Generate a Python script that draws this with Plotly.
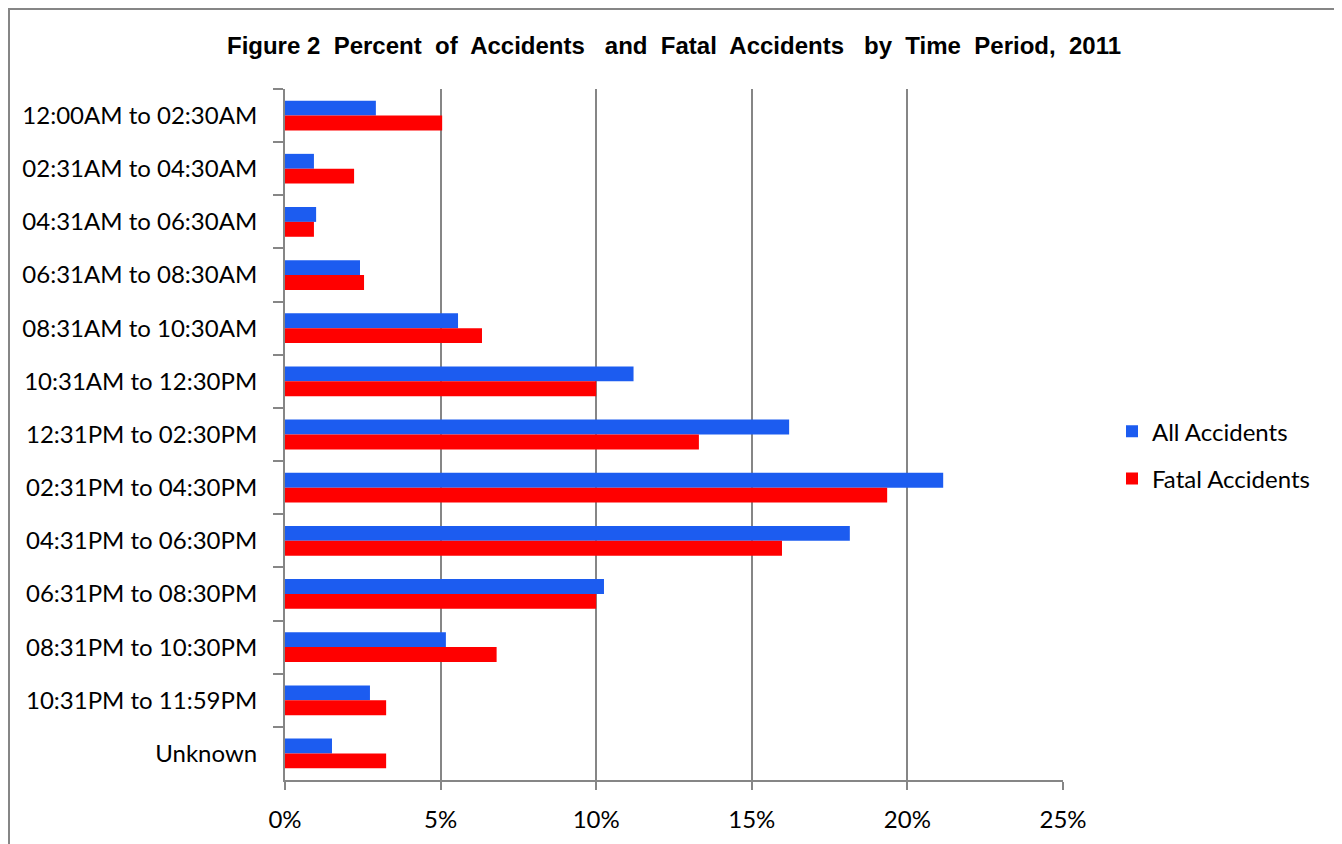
import plotly.graph_objects as go

categories = [
    "12:00AM to 02:30AM", "02:31AM to 04:30AM", "04:31AM to 06:30AM",
    "06:31AM to 08:30AM", "08:31AM to 10:30AM", "10:31AM to 12:30PM",
    "12:31PM to 02:30PM", "02:31PM to 04:30PM", "04:31PM to 06:30PM",
    "06:31PM to 08:30PM", "08:31PM to 10:30PM", "10:31PM to 11:59PM",
    "Unknown",
]
all_accidents = [2.92, 0.93, 1.0, 2.41, 5.56, 11.2, 16.2, 21.15, 18.15, 10.25, 5.17, 2.73, 1.51]
fatal_accidents = [5.05, 2.22, 0.93, 2.54, 6.33, 10.0, 13.3, 19.35, 15.97, 10.0, 6.8, 3.25, 3.25]
x_ticks = [0, 5, 10, 15, 20, 25]
x_ticktext = ["0%", "5%", "10%", "15%", "20%", "25%"]

GRID = "#868686"
FONT = "Lato"
W, H = 1334, 836
L, R, T, B = 277, 279, 81, 64
PW = W - L - R
PH = H - T - B

fig = go.Figure()
fig.add_trace(go.Bar(y=categories, x=all_accidents, orientation="h",
                     name="All Accidents", legendgroup="a",
                     marker=dict(color="#1C5CF0", line=dict(width=0))))
fig.add_trace(go.Bar(y=categories, x=fatal_accidents, orientation="h",
                     name="Fatal Accidents", legendgroup="b",
                     marker=dict(color="#FF0000", line=dict(width=0))))

fig.update_layout(
    width=W, height=H,
    paper_bgcolor="white", plot_bgcolor="white",
    margin=dict(l=L, r=R, t=T, b=B, autoexpand=False),
    barmode="group", bargap=0.44, bargroupgap=0,
    title=dict(text="Figure 2  Percent  of  Accidents   and  Fatal  Accidents   by  Time  Period,  2011",
               x=0.5, xref="paper", xanchor="center", y=1 - 38 / H, yanchor="middle",
               font=dict(family="Liberation Sans", size=24, color="black", weight="bold")),
    legend=dict(x=(1104 - L) / PW, xanchor="left", y=0.47, yanchor="middle",
                font=dict(family=FONT, size=24, color="black"),
                itemwidth=30, tracegroupgap=13, bgcolor="rgba(0,0,0,0)"),
    font=dict(family=FONT, size=24, color="black"),
)

fig.update_xaxes(range=[0, 25], tickvals=x_ticks, ticktext=x_ticktext,
                 showgrid=True, gridcolor=GRID, gridwidth=2,
                 showline=True, linecolor=GRID, linewidth=2,
                 ticks="outside", ticklen=8, tickwidth=2, tickcolor=GRID,
                 ticklabelstandoff=9, zeroline=False,
                 tickfont=dict(family=FONT, size=24, color="black"))
fig.update_yaxes(autorange="reversed", showgrid=False,
                 showline=True, linecolor=GRID, linewidth=2,
                 ticks="outside", ticklen=10, tickwidth=2, tickcolor=GRID,
                 tickson="boundaries", ticklabelstandoff=21,
                 tickfont=dict(family=FONT, size=24, color="black"))

# outer chart border
fig.add_shape(type="rect", xref="paper", yref="paper",
              x0=(1 - L) / PW, x1=(1332 - L) / PW,
              y0=-(H + 10 - (H - B)) / PH, y1=1 + (T - 1) / PH,
              line=dict(color=GRID, width=2), fillcolor="rgba(0,0,0,0)", layer="above")

fig.write_html("out.html")
